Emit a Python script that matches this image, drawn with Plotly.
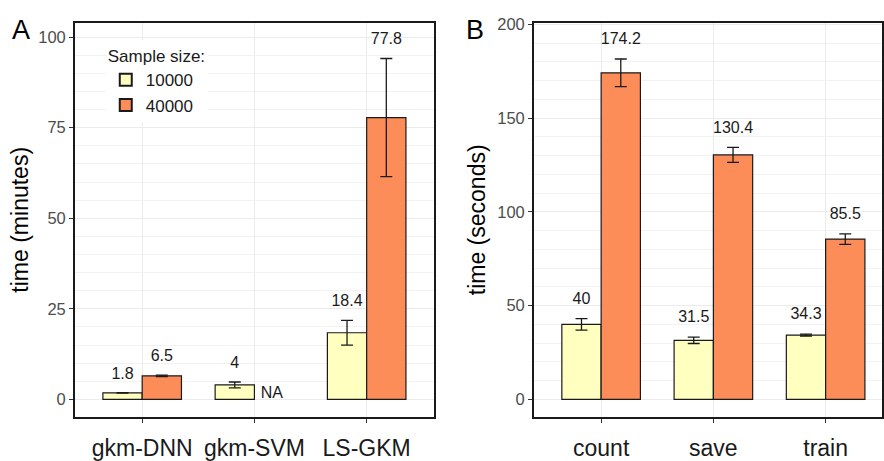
import plotly.graph_objects as go

# ---- data ----
cats_a = ["gkm-DNN", "gkm-SVM", "LS-GKM"]
a_10k = [1.8, 4.0, 18.4]
a_40k = [6.5, None, 77.8]
a_err_10k = [0.05, 0.8, 3.4]
a_err_40k = [0.2, None, 16.3]

cats_b = ["count", "save", "train"]
b_10k = [40.0, 31.5, 34.3]
b_40k = [174.2, 130.4, 85.5]
b_err_10k = [3.1, 1.7, 0.5]
b_err_40k = [7.4, 4.0, 2.8]

series_names = ["10000", "40000"]
colors = ["#FFFFBF", "#FC8D59"]

FONT = "Liberation Sans, Arial, sans-serif"
W, H = 884, 461
dodge = 0.175
bw = 0.35

fig = go.Figure()

def fmt(v):
    s = f"{v:.1f}"
    return s[:-2] if s.endswith(".0") else s

def add_panel(cats, v10, v40, e10, e40, xa, ya, label_off, showleg):
    idx = list(range(1, len(cats) + 1))
    for name, col, vals, errs, sgn in [(series_names[0], colors[0], v10, e10, -1),
                                        (series_names[1], colors[1], v40, e40, 1)]:
        xs = [i + sgn * dodge for i in idx]
        fig.add_trace(go.Bar(
            x=xs, y=vals, width=bw, name=name, legendgroup=name, showlegend=showleg,
            marker=dict(color=col, line=dict(color="#1a1a1a", width=1.2)),
            error_y=dict(type="data", array=[e if e is not None else 0 for e in errs],
                         visible=True, color="#1a1a1a", thickness=1.3, width=6),
            xaxis=xa, yaxis=ya, hoverinfo="skip"))
        tx, ty, tt = [], [], []
        for x, v, e in zip(xs, vals, errs):
            if v is None:
                continue
            tx.append(x)
            ty.append(v + (e or 0) + label_off)
            tt.append(fmt(v))
        fig.add_trace(go.Scatter(
            x=tx, y=ty, text=tt, mode="text", showlegend=False,
            textfont=dict(family=FONT, size=16, color="#1a1a1a"),
            textposition="middle center", xaxis=xa, yaxis=ya, hoverinfo="skip"))

add_panel(cats_a, a_10k, a_40k, a_err_10k, a_err_40k, "x", "y", 5, True)
add_panel(cats_b, b_10k, b_40k, b_err_10k, b_err_40k, "x2", "y2", 10, False)

# NA label for missing value
na_x = [i + 1 + dodge for i, v in enumerate(a_40k) if v is None]
fig.add_trace(go.Scatter(x=[x - 0.02 for x in na_x], y=[1.6] * len(na_x), text=["NA"] * len(na_x),
                         mode="text", showlegend=False,
                         textfont=dict(family=FONT, size=16, color="#1a1a1a"),
                         xaxis="x", yaxis="y", hoverinfo="skip"))

ydom = [1 - 420 / H, 1 - 16 / H]
common_x = dict(showline=True, mirror=True, linecolor="#1a1a1a", linewidth=1.5,
                ticks="outside", ticklen=4, tickcolor="#333333", tickwidth=1.1,
                showgrid=True, gridcolor="#EBEBEB", gridwidth=1.1, zeroline=False,
                tickfont=dict(family=FONT, size=23, color="#1a1a1a"),
                ticklabelstandoff=6)
common_y = dict(showline=True, mirror=True, linecolor="#1a1a1a", linewidth=1.5,
                ticks="outside", ticklen=4, tickcolor="#333333", tickwidth=1.1,
                showgrid=True, gridcolor="#EBEBEB", gridwidth=1.1, zeroline=False,
                tickfont=dict(family=FONT, size=16.5, color="#4D4D4D"),
                minor=dict(showgrid=True, gridcolor="#F2F2F2", gridwidth=0.6),
                title_font=dict(family=FONT, size=23, color="#000000"))

fig.update_layout(
    width=W, height=H, margin=dict(l=0, r=0, t=0, b=0),
    paper_bgcolor="white", plot_bgcolor="white",
    barmode="overlay",
    font=dict(family=FONT),
    xaxis=dict(domain=[75 / W, 435 / W], range=[0.4, 3.6], tickvals=[1, 2, 3],
               ticktext=cats_a, anchor="y", **common_x),
    yaxis=dict(domain=ydom, range=[-4.85, 104.0], tickvals=[0, 25, 50, 75, 100],
               anchor="x", title=dict(text="time (minutes)", standoff=3), **common_y),
    xaxis2=dict(domain=[535 / W, 1.0], range=[0.4, 0.4 + (W - 535) / 112.5],
                tickvals=[1, 2, 3], ticktext=cats_b, anchor="y2", **common_x),
    yaxis2=dict(domain=ydom, range=[-9.4, 201.0], tickvals=[0, 50, 100, 150, 200],
                anchor="x2", title=dict(text="time (seconds)", standoff=5), **common_y),
    legend=dict(x=106 / W, y=1 - 34 / H, xanchor="left", yanchor="top",
                bgcolor="white", borderwidth=0,
                title=dict(text="Sample size:", font=dict(family=FONT, size=17, color="#1a1a1a")),
                font=dict(family=FONT, size=17, color="#1a1a1a"),
                tracegroupgap=0, itemsizing="constant"),
    annotations=[
        dict(text="A", x=21 / W, y=1 - 24 / H, xref="paper", yref="paper",
             showarrow=False, font=dict(family=FONT, size=27, color="#000000"),
             xanchor="center", yanchor="middle"),
        dict(text="B", x=476 / W, y=1 - 24 / H, xref="paper", yref="paper",
             showarrow=False, font=dict(family=FONT, size=27, color="#000000"),
             xanchor="center", yanchor="middle"),
    ],
)

fig.write_html("out.html")
